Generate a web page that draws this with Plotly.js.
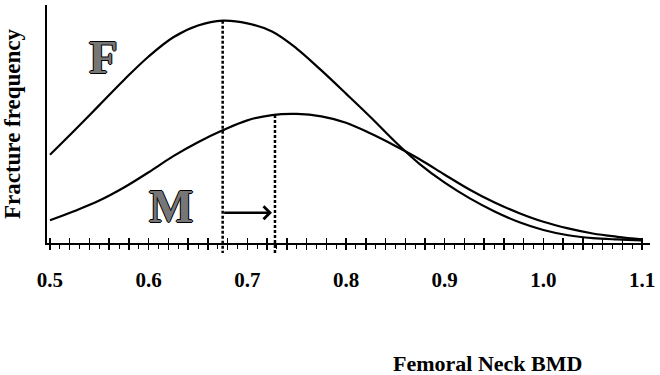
<!DOCTYPE html>
<html>
<head>
<meta charset="utf-8">
<script src="https://cdn.plot.ly/plotly-3.0.1.min.js"></script>
<style>
  html, body { margin: 0; padding: 0; background: #ffffff; }
  #chart { width: 660px; height: 375px; }
</style>
</head>
<body>
<div id="chart"></div>
<script>
// Femoral neck BMD (g/cm2) at which the fracture-frequency curves are sampled
const bmd = [0.500, 0.525, 0.550, 0.575, 0.600, 0.625, 0.650, 0.675, 0.700, 0.725,
             0.750, 0.775, 0.800, 0.825, 0.850, 0.875, 0.900, 0.925, 0.950, 0.975,
             1.000, 1.025, 1.050, 1.075, 1.100];

// Relative fracture frequency, women (F)
const femaleFreq = [0.393, 0.504, 0.618, 0.732, 0.838, 0.925, 0.978, 1.000, 0.988, 0.951,
                    0.874, 0.775, 0.670, 0.563, 0.451, 0.350, 0.267, 0.197, 0.138, 0.089,
                    0.053, 0.029, 0.016, 0.010, 0.006];

// Relative fracture frequency, men (M)
const maleFreq = [0.097, 0.139, 0.186, 0.245, 0.314, 0.387, 0.450, 0.504, 0.549, 0.573,
                  0.578, 0.567, 0.538, 0.489, 0.433, 0.372, 0.303, 0.236, 0.178, 0.130,
                  0.090, 0.060, 0.037, 0.022, 0.010];

// Axis labels
const tickLabelValues = [0.5, 0.6, 0.7, 0.8, 0.9, 1.0, 1.1];
const tickLabels = ['0.5', '0.6', '0.7', '0.8', '0.9', '1.0', '1.1'];

// BMD at the peak of each curve, and the height of the shift arrow
const femaleMode = 0.675;
const maleMode = 0.728;
const shiftLevel = 0.131;

const xRange = [0.497, 1.108];
const yRange = [-0.006, 1.071];

function valueAt(xs, ys, x) {
  for (let i = 0; i < xs.length - 1; i++) {
    if (x >= xs[i] && x <= xs[i + 1]) {
      const t = (x - xs[i]) / (xs[i + 1] - xs[i]);
      return ys[i] + t * (ys[i + 1] - ys[i]);
    }
  }
  return ys[ys.length - 1];
}
// y value -> paper fraction, so the guide lines can run past the axis line
function toPaperY(v) { return (v - yRange[0]) / (yRange[1] - yRange[0]); }

const serif = 'Liberation Serif, Times New Roman, serif';
const ink = '#000000';

const curveLine = { color: ink, width: 2.2, shape: 'spline', smoothing: 1 };
const hidden = { color: 'rgba(0,0,0,0)', width: 0 };

const traces = [
  { x: bmd, y: femaleFreq, type: 'scatter', mode: 'lines', name: 'F',
    line: curveLine, hoverinfo: 'skip' },
  { x: bmd, y: maleFreq, type: 'scatter', mode: 'lines', name: 'M',
    line: curveLine, hoverinfo: 'skip' },
  // carriers for the label axis and the upper tick axis
  { x: bmd, y: femaleFreq, xaxis: 'x2', type: 'scatter', mode: 'lines',
    line: hidden, opacity: 0, hoverinfo: 'skip', showlegend: false },
  { x: bmd, y: femaleFreq, xaxis: 'x3', type: 'scatter', mode: 'lines',
    line: hidden, opacity: 0, hoverinfo: 'skip', showlegend: false }
];

const guide = { color: ink, width: 2.5, dash: '3px,2px' };
const letterFont = { family: serif, size: 47, weight: 'bold', color: '#767676',
                     shadow: '1px 0 0 #000, -1px 0 0 #000, 0 1px 0 #000, 0 -1px 0 #000' };

const layout = {
  width: 660, height: 375,
  paper_bgcolor: '#ffffff', plot_bgcolor: '#ffffff',
  margin: { l: 47, r: 10, t: 5, b: 132 },
  showlegend: false,
  font: { family: serif, color: ink },
  xaxis: {
    range: xRange, showline: true, linecolor: ink, linewidth: 2,
    tickmode: 'linear', tick0: 0.5, dtick: 0.02,
    ticks: 'outside', ticklen: 5, tickwidth: 1.5, tickcolor: ink,
    minor: { tickmode: 'linear', tick0: 0.5, dtick: 0.01, ticks: 'outside',
             ticklen: 4, tickwidth: 1, tickcolor: ink, showgrid: false },
    showticklabels: false, showgrid: false, zeroline: false, fixedrange: true
  },
  xaxis2: {
    overlaying: 'x', anchor: 'y', side: 'bottom', range: xRange,
    tickmode: 'array', tickvals: tickLabelValues, ticktext: tickLabels,
    ticks: '', showline: false, showgrid: false, zeroline: false,
    tickfont: { family: serif, size: 21, weight: 'bold', color: ink },
    ticklabelstandoff: 22, fixedrange: true
  },
  xaxis3: {
    overlaying: 'x', anchor: 'y', side: 'bottom', range: xRange,
    tickmode: 'linear', tick0: 0.5, dtick: 0.02,
    ticks: 'inside', ticklen: 5, tickwidth: 1.5, tickcolor: ink,
    showticklabels: false, showline: false, showgrid: false, zeroline: false, fixedrange: true
  },
  yaxis: {
    range: yRange, showline: true, linecolor: ink, linewidth: 2,
    ticks: '', showticklabels: false, showgrid: false, zeroline: false, fixedrange: true,
    title: { text: 'Fracture frequency', standoff: 21,
             font: { family: serif, size: 23, weight: 'bold', color: ink } }
  },
  shapes: [
    { type: 'line', xref: 'x', yref: 'paper',
      x0: femaleMode, x1: femaleMode,
      y0: toPaperY(valueAt(bmd, femaleFreq, femaleMode)), y1: -0.042, line: guide },
    { type: 'line', xref: 'x', yref: 'paper',
      x0: maleMode, x1: maleMode,
      y0: toPaperY(valueAt(bmd, maleFreq, maleMode)), y1: -0.042, line: guide }
  ],
  annotations: [
    { x: 0.5547, y: 0.836, xref: 'x', yref: 'y', text: 'F', showarrow: false, font: letterFont },
    { x: 0.6226, y: 0.163, xref: 'x', yref: 'y', text: 'M', showarrow: false, font: letterFont },
    { x: maleMode, y: shiftLevel, xref: 'x', yref: 'y',
      ax: femaleMode, ay: shiftLevel, axref: 'x', ayref: 'y',
      text: '', showarrow: true, arrowhead: 4, arrowsize: 1, arrowwidth: 2.5,
      arrowcolor: ink, standoff: 3 },
    { x: 0.9434, y: -0.508, xref: 'x', yref: 'paper', text: 'Femoral Neck BMD',
      showarrow: false, xanchor: 'center', yanchor: 'middle',
      font: { family: serif, size: 22, weight: 'bold', color: ink } }
  ]
};

Plotly.newPlot('chart', traces, layout, { staticPlot: true, displayModeBar: false });
</script>
</body>
</html>
